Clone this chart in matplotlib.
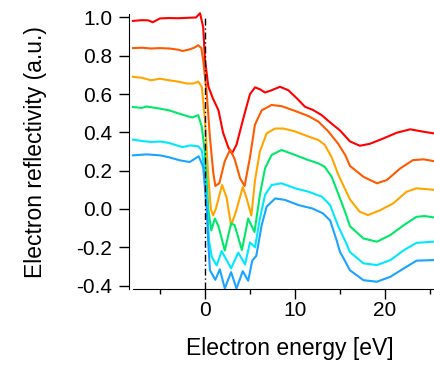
import matplotlib
matplotlib.use("Agg")
import matplotlib.pyplot as plt
from matplotlib.ticker import MultipleLocator

plt.rcParams['font.family'] = ['Liberation Sans', 'DejaVu Sans']

# curves (energy in eV, reflectivity offset per curve)
red_x = [-8.0, -7.0, -6.3, -5.8, -5.0, -4.0, -3.0, -2.0, -1.0, -0.55, -0.2, 0.0, 0.37, 0.9, 1.5, 2.0, 2.6, 3.0,
         3.5, 4.3, 5.0, 5.56, 6.1, 6.67, 7.4, 8.33, 9.26, 10.2, 11.1, 12.0, 12.96, 13.9, 15.0, 16.1, 17.2, 18.3,
         19.8, 21.3, 22.8, 24.3, 25.4]
red_y = [0.982, 0.986, 0.985, 0.975, 0.995, 0.997, 0.996, 0.998, 1.000, 1.022, 0.950, 0.780, 0.640, 0.575, 0.515,
         0.400, 0.320, 0.290, 0.335, 0.480, 0.600, 0.635, 0.625, 0.608, 0.620, 0.638, 0.620, 0.578, 0.534, 0.517,
         0.490, 0.452, 0.410, 0.353, 0.330, 0.340, 0.368, 0.398, 0.416, 0.403, 0.395]

ored_x = [-8.0, -7.0, -6.0, -5.0, -4.0, -3.0, -2.5, -1.8, -1.2, -0.75, -0.4, -0.2, 0.2, 0.55, 0.92, 1.15, 1.6, 2.2,
          2.8, 3.3, 3.9, 4.4, 5.0, 5.55, 6.3, 7.4, 8.5, 10.0, 11.5, 12.6, 13.7, 14.8, 15.6, 16.1, 17.6, 19.1,
          20.2, 21.7, 23.1, 24.3, 25.4]
ored_y = [0.840, 0.842, 0.838, 0.840, 0.838, 0.832, 0.825, 0.832, 0.842, 0.855, 0.840, 0.777, 0.600, 0.375, 0.190,
          0.120, 0.135, 0.250, 0.310, 0.260, 0.160, 0.120, 0.270, 0.440, 0.515, 0.543, 0.537, 0.512, 0.485, 0.456,
          0.405, 0.340, 0.280, 0.225, 0.168, 0.134, 0.151, 0.212, 0.255, 0.259, 0.250]

or_x = [-8.0, -7.0, -6.0, -5.0, -4.0, -3.0, -2.0, -1.3, -0.75, -0.35, 0.0, 0.37, 0.65, 0.9, 1.2, 1.9, 2.4, 2.9, 3.4,
        4.2, 4.6, 5.15, 5.56, 6.1, 6.85, 7.8, 8.7, 10.0, 11.5, 12.6, 13.3, 14.07, 14.8, 15.6, 16.1, 17.2, 18.1,
        19.4, 20.9, 22.4, 23.5, 25.4]
or_y = [0.690, 0.685, 0.672, 0.680, 0.672, 0.665, 0.655, 0.655, 0.665, 0.637, 0.463, 0.166, 0.000, -0.034, 0.000,
        0.125, 0.060, -0.086, -0.020, 0.114, 0.060, -0.034, 0.150, 0.300, 0.395, 0.420, 0.420, 0.405, 0.378, 0.360,
        0.335, 0.270, 0.180, 0.100, 0.050, -0.015, -0.032, -0.008, 0.029, 0.090, 0.108, 0.100]

gr_x = [-8.0, -7.0, -6.5, -5.0, -4.0, -3.0, -2.0, -1.4, -0.75, -0.35, 0.0, 0.37, 0.7, 1.1, 1.5, 2.2, 2.9, 3.3, 4.1,
        4.8, 5.5, 6.1, 6.67, 7.4, 8.5, 10.0, 11.5, 12.6, 13.3, 14.07, 14.8, 15.6, 16.1, 17.6, 19.1, 20.6, 22.1,
        23.5, 24.4, 25.4]
gr_y = [0.532, 0.528, 0.535, 0.524, 0.515, 0.500, 0.485, 0.478, 0.490, 0.428, 0.289, 0.000, -0.112, -0.050, -0.090,
        -0.217, -0.075, -0.085, -0.215, -0.050, -0.120, 0.073, 0.212, 0.282, 0.308, 0.282, 0.255, 0.238, 0.220,
        0.168, 0.080, -0.020, -0.090, -0.154, -0.171, -0.136, -0.084, -0.041, -0.037, -0.044]

cy_x = [-8.0, -7.0, -6.0, -5.0, -4.0, -3.0, -2.5, -1.6, -0.75, -0.35, -0.1, 0.2, 0.45, 0.75, 1.3, 1.85, 2.9, 3.7,
        4.45, 5.0, 5.56, 6.1, 6.67, 7.4, 8.5, 10.0, 11.5, 13.0, 13.9, 14.8, 15.6, 16.1, 17.6, 19.1, 20.6, 22.1,
        23.5, 25.4]
cy_y = [0.362, 0.355, 0.350, 0.352, 0.345, 0.330, 0.323, 0.332, 0.327, 0.306, 0.220, 0.062, -0.165, -0.250, -0.295,
        -0.220, -0.310, -0.228, -0.290, -0.175, -0.200, -0.050, 0.073, 0.125, 0.134, 0.108, 0.090, 0.064, 0.020,
        -0.090, -0.170, -0.225, -0.284, -0.293, -0.267, -0.215, -0.177, -0.171]

bl_x = [-8.0, -6.5, -5.0, -4.0, -2.8, -1.7, -0.7, -0.2, 0.2, 0.37, 0.55, 1.15, 1.65, 2.2, 2.9, 3.5, 4.2, 4.8, 5.25,
        5.7, 6.3, 6.85, 7.8, 8.9, 10.4, 11.9, 13.1, 13.9, 14.6, 15.0, 15.4, 16.1, 17.6, 19.1, 20.6, 22.1, 23.5,
        25.4]
bl_y = [0.280, 0.285, 0.280, 0.270, 0.254, 0.245, 0.275, 0.220, -0.008, -0.180, -0.320, -0.370, -0.315, -0.415,
        -0.330, -0.415, -0.325, -0.375, -0.270, -0.245, -0.084, 0.012, 0.055, 0.047, 0.020, 0.003, -0.023, -0.060,
        -0.160, -0.225, -0.258, -0.320, -0.372, -0.380, -0.354, -0.310, -0.270, -0.267]

curves = [(red_x, red_y, '#ff0000'), (ored_x, ored_y, '#ff5a00'), (or_x, or_y, '#ffa500'),
          (gr_x, gr_y, '#00e86a'), (cy_x, cy_y, '#00e8ff'), (bl_x, bl_y, '#18a4ff')]

fig = plt.figure(figsize=(4.34, 3.65), dpi=100)
ax = fig.add_axes([129 / 434, 76 / 365, 305 / 434, 279 / 365])

for xs, ys, c in curves:
    ax.plot(xs, ys, color=c, lw=1.5, clip_on=False, solid_joinstyle='round')

ymin, ymax = -0.418, 1.039
ax.set_xlim(-8.44, 25.44)
ax.set_ylim(ymin, ymax)

# onset marker at 0 eV, drawn over the curves
ax.axvline(0, ymin=0, ymax=(1.0 - ymin) / (ymax - ymin), color='black', lw=1.0,
           linestyle=(0, (5, 2, 1, 2)), zorder=5)

ax.spines['top'].set_visible(False)
ax.spines['right'].set_visible(False)
ax.spines['bottom'].set_bounds(-8.0, 25.44)
ax.spines['left'].set_bounds(ymin, 1.02)

ax.xaxis.set_minor_locator(MultipleLocator(5))
ax.set_yticks([-0.4, -0.2, 0.0, 0.2, 0.4, 0.6, 0.8, 1.0])
ax.set_yticklabels(['-0.4', '-0.2', '0.0', '0.2', '0.4', '0.6', '0.8', '1.0'])
ax.set_xticks([0, 10, 20])
ax.set_xticklabels(['0', '10', '20'])
ax.tick_params(axis='both', which='major', length=7, width=1, labelsize=15, direction='out')
ax.tick_params(axis='x', which='minor', length=3.5, width=1, direction='out')
ax.tick_params(axis='y', pad=5)
ax.tick_params(axis='x', pad=2)

ax.set_xlabel("Electron energy [eV]", fontsize=16.5)
ax.set_ylabel("Electron reflectivity (a.u.)", fontsize=16.5)
ax.xaxis.set_label_coords(0.528, -0.172)
ax.yaxis.set_label_coords(-0.269, 0.491)

fig.savefig("out.png", dpi=100)
